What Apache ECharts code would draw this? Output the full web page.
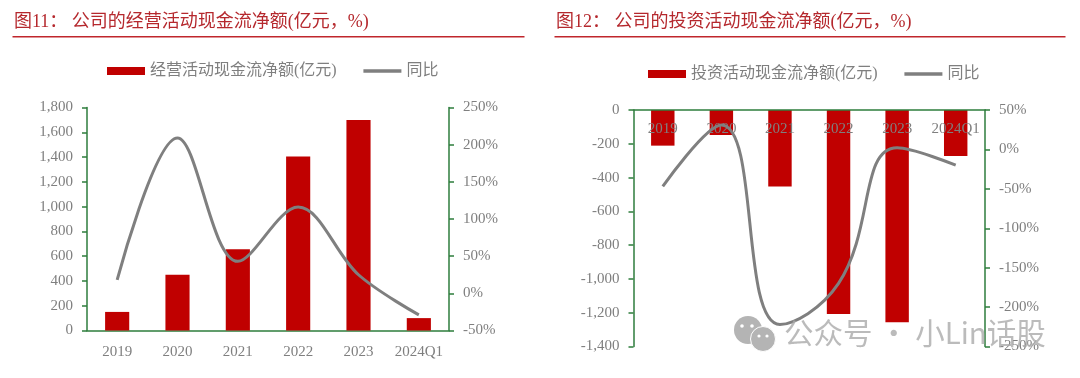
<!DOCTYPE html>
<html>
<head>
<meta charset="utf-8">
<style>
  html, body { margin: 0; padding: 0; background: #fff; }
  #main { width: 1080px; height: 378px; }
</style>
<script src="https://cdn.jsdelivr.net/npm/echarts@6/dist/echarts.min.js"></script>
</head>
<body>
<div id="main"></div>
<script>
var categories = ['2019', '2020', '2021', '2022', '2023', '2024Q1'];

// 图11
var operatingName = '经营活动现金流净额(亿元)';
var operatingValues = [150, 450, 655, 1405, 1700, 100];
var operatingYoy = [18, 209, 43, 116, 25, -29];

// 图12
var investingName = '投资活动现金流净额(亿元)';
var investingValues = [-211, -148, -453, -1208, -1257, -272];
var investingYoy = [-47, 31, -222, -170, 2, -20];

var yoyName = '同比';

var fontFamily = '"Liberation Serif", "Noto Sans CJK SC", serif';
var labelColor = '#7f7f7f';
var axisColor = '#2e7d3c';
var titleColor = '#b5282d';
var markGray = '#b4b4b4';

function valueAxis(gridIndex, position, min, max, interval, formatter) {
    return {
        type: 'value',
        gridIndex: gridIndex,
        position: position,
        min: min,
        max: max,
        interval: interval,
        splitLine: { show: false },
        axisLine: { show: true, lineStyle: { color: axisColor, width: 1.5 } },
        axisTick: { show: true, length: 5, lineStyle: { color: axisColor, width: 1.5 } },
        axisLabel: { color: labelColor, fontFamily: fontFamily, fontSize: 15, margin: 14, formatter: formatter }
    };
}

function legendOf(left, top, barName) {
    return {
        left: left,
        top: top,
        itemWidth: 38,
        itemHeight: 8,
        itemGap: 25,
        textStyle: { color: labelColor, fontFamily: fontFamily, fontSize: 16, padding: [0, 0, 0, 0] },
        data: [
            { name: barName, icon: 'rect' },
            { name: yoyName, itemStyle: { opacity: 0 }, lineStyle: { width: 3.5 } }
        ]
    };
}

function titleOf(left, text) {
    return {
        text: text,
        left: left,
        top: 8,
        textStyle: { color: titleColor, fontFamily: fontFamily, fontSize: 18, fontWeight: 'normal' }
    };
}

function lineSeries(xIndex, yIndex, smooth, values) {
    return {
        name: yoyName,
        type: 'line',
        xAxisIndex: xIndex,
        yAxisIndex: yIndex,
        smooth: smooth,
        symbol: 'none',
        lineStyle: { color: '#7f7f7f', width: 3 },
        itemStyle: { color: '#7f7f7f' },
        data: values
    };
}

function barSeries(name, xIndex, yIndex, values) {
    return {
        name: name,
        type: 'bar',
        xAxisIndex: xIndex,
        yAxisIndex: yIndex,
        barWidth: '40%',
        itemStyle: { color: '#c00000' },
        data: values
    };
}

var myChart = echarts.init(document.getElementById('main'));

myChart.setOption({
    animation: false,
    backgroundColor: '#fff',
    title: [
        titleOf(9, '图11： 公司的经营活动现金流净额(亿元，%)'),
        titleOf(551, '图12： 公司的投资活动现金流净额(亿元，%)')
    ],
    legend: [
        legendOf(102, 58, operatingName),
        legendOf(643, 61, investingName)
    ],
    grid: [
        { left: 87, top: 107.5, width: 362, height: 223 },
        { left: 633.5, top: 110, width: 351.5, height: 236.5 }
    ],
    xAxis: [
        {
            type: 'category',
            gridIndex: 0,
            data: categories,
            axisLine: { lineStyle: { color: axisColor, width: 1.5 } },
            axisTick: { length: 5, lineStyle: { color: axisColor, width: 1.5 } },
            axisLabel: { color: labelColor, fontFamily: fontFamily, fontSize: 15, margin: 14, interval: 0 }
        },
        {
            type: 'category',
            gridIndex: 1,
            position: 'top',
            z: 3, // 年份要压在柱子上面
            data: categories,
            axisLine: { lineStyle: { color: axisColor, width: 1.5 } },
            axisTick: { inside: true, length: 4, lineStyle: { color: axisColor, width: 1.5 } },
            axisLabel: { color: labelColor, fontFamily: fontFamily, fontSize: 15, inside: true, margin: 12, interval: 0 }
        }
    ],
    yAxis: [
        valueAxis(0, 'left', 0, 1800, 200),
        valueAxis(0, 'right', -50, 250, 50, '{value}%'),
        valueAxis(1, 'left', -1400, 0, 200),
        valueAxis(1, 'right', -250, 50, 50, '{value}%')
    ],
    series: [
        barSeries(operatingName, 0, 0, operatingValues),
        lineSeries(0, 1, 0.35, operatingYoy),
        barSeries(investingName, 1, 2, investingValues),
        lineSeries(1, 3, 0.45, investingYoy)
    ],
    graphic: [
        // 标题下的红线
        { type: 'rect', shape: { x: 12.5, y: 36, width: 512, height: 1.5 }, style: { fill: '#c0262c' } },
        { type: 'rect', shape: { x: 554.5, y: 36, width: 511, height: 1.5 }, style: { fill: '#c0262c' } },
        // 水印
        { type: 'circle', z: 100, shape: { cx: 748, cy: 330, r: 14 }, style: { fill: markGray } },
        { type: 'circle', z: 101, shape: { cx: 742, cy: 326, r: 1.8 }, style: { fill: '#fff' } },
        { type: 'circle', z: 101, shape: { cx: 752, cy: 326, r: 1.8 }, style: { fill: '#fff' } },
        { type: 'circle', z: 102, shape: { cx: 763, cy: 339, r: 12.5 }, style: { fill: markGray, stroke: '#fff', lineWidth: 1 } },
        { type: 'circle', z: 103, shape: { cx: 759, cy: 336, r: 1.6 }, style: { fill: '#fff' } },
        { type: 'circle', z: 103, shape: { cx: 767, cy: 336, r: 1.6 }, style: { fill: '#fff' } },
        {
            type: 'text',
            z: 100,
            x: 784,
            y: 318,
            style: {
                text: '公众号 · 小Lin话股',
                fill: 'rgba(170,170,170,0.8)',
                fontSize: 29.5,
                fontFamily: '"Noto Sans CJK SC", sans-serif'
            }
        }
    ]
});
</script>
</body>
</html>
